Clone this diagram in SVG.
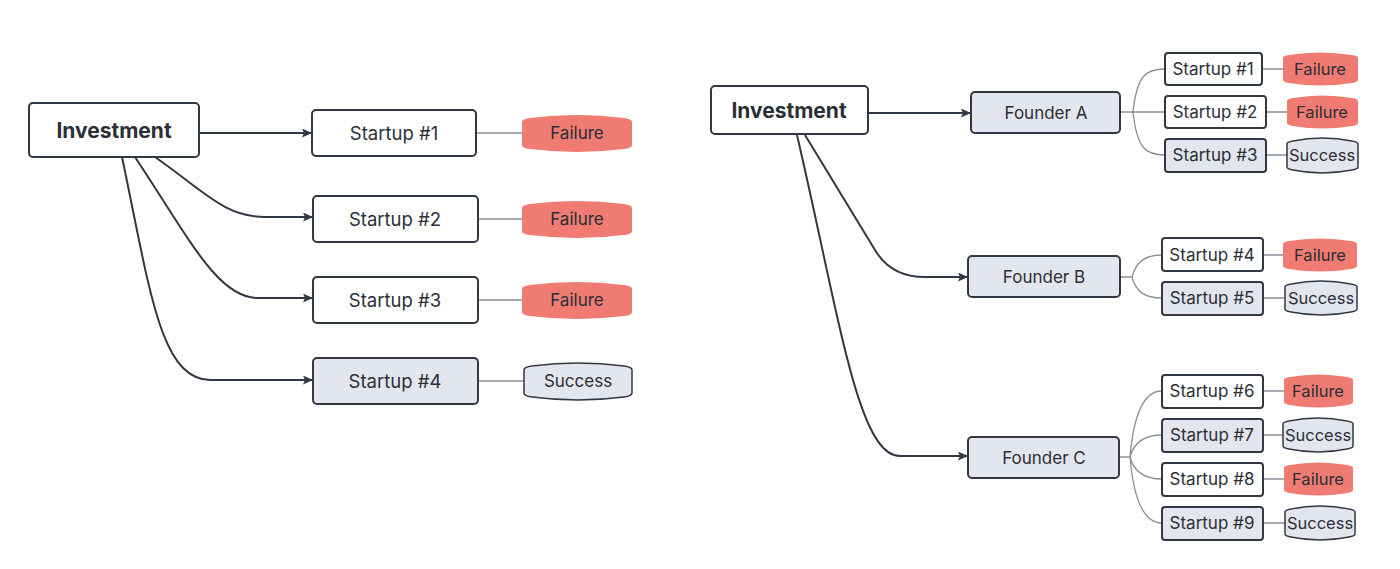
<svg xmlns="http://www.w3.org/2000/svg" width="1400" height="569" viewBox="0 0 1400 569">
<style>
.box{fill:#fff;stroke:#323843;stroke-width:2}
.gbox{fill:#e3e6ee;stroke:#323843;stroke-width:2}
.t{font-family:Inter,"Noto Sans",sans-serif;fill:#2b2f36;text-anchor:middle;dominant-baseline:central}
.b{font-weight:700;font-size:21px}
.l{font-size:18.5px}
.s{font-size:17px}
.o{font-size:16.5px}
.fail{fill:#f07b73;stroke:none}
.succ{fill:#e3e6ee;stroke:#323843;stroke-width:1.5}
.arr{fill:none;stroke:#323843;stroke-width:2;marker-end:url(#ah)}
.thin{fill:none;stroke:#8a8f96;stroke-width:1.3}
</style>
<defs>
<marker id="ah" viewBox="0 0 10 10" refX="9" refY="5" markerWidth="10" markerHeight="9" orient="auto" markerUnits="userSpaceOnUse" preserveAspectRatio="none">
<path d="M0,0 L10,5 L0,10 L2,5 Z" fill="#323843"/>
</marker>
</defs>
<rect width="1400" height="569" fill="#fff"/>

<g id="connectors">
<!-- left -->
<path class="arr" d="M199,133 L311,133"/>
<path class="arr" d="M155,157 C205,192 225,217 265,217 L312,217"/>
<path class="arr" d="M135,157 C190,240 218,298 258,298 L312,298"/>
<path class="arr" d="M122,157 C150,290 160,379 210,380 L312,380"/>
<path class="thin" d="M476,133 L522,133 M478,219 L522,219 M478,300 L522,300 M478,381 L524,381"/>
<!-- right -->
<path class="arr" d="M868,113 L970,113"/>
<path class="arr" d="M805,135 L875,250 Q891,277 925,277 L967,277"/>
<path class="arr" d="M797,135 C840,320 858,456 900,456 L967,456"/>
<path class="thin" d="M1120,112 L1165,112 M1133,112 C1137,76 1145,69 1165,69 M1133,112 C1137,148 1145,155 1165,155"/>
<path class="thin" d="M1119,277 L1132,277 C1136,262 1145,255 1162,255 M1132,277 C1136,292 1145,298 1162,298"/>
<path class="thin" d="M1119,457 L1130,457 C1134,410 1145,391 1162,391 M1130,457 C1134,442 1145,435 1162,435 M1130,457 C1134,472 1145,479 1162,479 M1130,457 C1134,504 1145,523 1162,523"/>
<path class="thin" d="M1262,69 L1283,69 M1266,112 L1287,112 M1266,155 L1287,155 M1263,255 L1283,255 M1263,298 L1285,298 M1263,391 L1284,391 M1263,435 L1283,435 M1263,479 L1284,479 M1263,523 L1285,523"/>
</g>

<g id="inv-left"><rect class="box" x="29" y="103" width="170" height="54" rx="4"/><text class="t b" x="114" y="130">Investment</text></g>
<g id="ls1"><rect class="box" x="312" y="110" width="164" height="46" rx="4"/><text class="t l" x="394" y="133">Startup #1</text></g>
<g id="ls2"><rect class="box" x="313" y="196" width="165" height="46" rx="4"/><text class="t l" x="395" y="219">Startup #2</text></g>
<g id="ls3"><rect class="box" x="313" y="277" width="165" height="46" rx="4"/><text class="t l" x="395" y="300">Startup #3</text></g>
<g id="ls4"><rect class="gbox" x="313" y="358" width="165" height="46" rx="4"/><text class="t l" x="395" y="381">Startup #4</text></g>

<g id="lo1"><path class="fail" d="M522,122 Q522,119 530,118 Q577,112 624,118 Q632,119 632,122 L632,145 Q632,148 624,149 Q577,155 530,149 Q522,148 522,145 Z"/><text class="t s" x="577" y="133">Failure</text></g>
<g id="lo2"><path class="fail" d="M522,208 Q522,205 530,204 Q577,198 624,204 Q632,205 632,208 L632,231 Q632,234 624,235 Q577,241 530,235 Q522,234 522,231 Z"/><text class="t s" x="577" y="219">Failure</text></g>
<g id="lo3"><path class="fail" d="M522,289 Q522,286 530,285 Q577,279 624,285 Q632,286 632,289 L632,312 Q632,315 624,316 Q577,322 530,316 Q522,315 522,312 Z"/><text class="t s" x="577" y="300">Failure</text></g>
<g id="lo4"><path class="succ" d="M524,370 Q524,367 532,366 Q578,360 624,366 Q632,367 632,370 L632,393 Q632,396 624,397 Q578,403 532,397 Q524,396 524,393 Z"/><text class="t s" x="578" y="381">Success</text></g>

<g id="inv-right"><rect class="box" x="711" y="86" width="157" height="48" rx="4"/><text class="t b" x="789" y="110">Investment</text></g>
<g id="fa"><rect class="gbox" x="971" y="92" width="149" height="41" rx="4"/><text class="t s" x="1046" y="113">Founder A</text></g>
<g id="fb"><rect class="gbox" x="968" y="256" width="152" height="41" rx="4"/><text class="t s" x="1044" y="277">Founder B</text></g>
<g id="fc"><rect class="gbox" x="968" y="437" width="151" height="41" rx="4"/><text class="t s" x="1044" y="458">Founder C</text></g>

<g id="rs1"><rect class="box" x="1165" y="53" width="97" height="32" rx="3"/><text class="t s" x="1213" y="69">Startup #1</text></g>
<g id="rs2"><rect class="box" x="1165" y="96" width="101" height="32" rx="3"/><text class="t s" x="1215" y="112">Startup #2</text></g>
<g id="rs3"><rect class="gbox" x="1165" y="139" width="101" height="33" rx="3"/><text class="t s" x="1215" y="155">Startup #3</text></g>
<g id="rs4"><rect class="box" x="1162" y="238" width="101" height="33" rx="3"/><text class="t s" x="1212" y="255">Startup #4</text></g>
<g id="rs5"><rect class="gbox" x="1162" y="282" width="101" height="33" rx="3"/><text class="t s" x="1212" y="298">Startup #5</text></g>
<g id="rs6"><rect class="box" x="1162" y="375" width="101" height="33" rx="3"/><text class="t s" x="1212" y="391">Startup #6</text></g>
<g id="rs7"><rect class="gbox" x="1162" y="419" width="101" height="33" rx="3"/><text class="t s" x="1212" y="435">Startup #7</text></g>
<g id="rs8"><rect class="box" x="1162" y="463" width="101" height="33" rx="3"/><text class="t s" x="1212" y="479">Startup #8</text></g>
<g id="rs9"><rect class="gbox" x="1162" y="507" width="101" height="33" rx="3"/><text class="t s" x="1212" y="523">Startup #9</text></g>

<g id="ro1"><path class="fail" d="M1283,58 Q1283,56 1289,55 Q1320,50 1352,55 Q1358,56 1358,58 L1358,80 Q1358,82 1352,83 Q1320,88 1289,83 Q1283,82 1283,80 Z"/><text class="t o" x="1320" y="69">Failure</text></g>
<g id="ro2"><path class="fail" d="M1287,101 Q1287,99 1293,98 Q1322,93 1352,98 Q1358,99 1358,101 L1358,123 Q1358,125 1352,126 Q1322,131 1293,126 Q1287,125 1287,123 Z"/><text class="t o" x="1322" y="112">Failure</text></g>
<g id="ro3"><path class="succ" d="M1287,144 Q1287,142 1293,141 Q1322,135 1352,141 Q1358,142 1358,144 L1358,167 Q1358,169 1352,170 Q1322,176 1293,170 Q1287,169 1287,167 Z"/><text class="t o" x="1322" y="155">Success</text></g>
<g id="ro4"><path class="fail" d="M1283,244 Q1283,242 1289,241 Q1320,236 1351,241 Q1357,242 1357,244 L1357,266 Q1357,268 1351,269 Q1320,274 1289,269 Q1283,268 1283,266 Z"/><text class="t o" x="1320" y="255">Failure</text></g>
<g id="ro5"><path class="succ" d="M1285,287 Q1285,285 1291,284 Q1321,278 1351,284 Q1357,285 1357,287 L1357,309 Q1357,311 1351,312 Q1321,318 1291,312 Q1285,311 1285,309 Z"/><text class="t o" x="1321" y="298">Success</text></g>
<g id="ro6"><path class="fail" d="M1284,380 Q1284,378 1290,377 Q1318,372 1347,377 Q1353,378 1353,380 L1353,402 Q1353,404 1347,405 Q1318,410 1290,405 Q1284,404 1284,402 Z"/><text class="t o" x="1318" y="391">Failure</text></g>
<g id="ro7"><path class="succ" d="M1283,424 Q1283,422 1289,421 Q1318,415 1347,421 Q1353,422 1353,424 L1353,446 Q1353,448 1347,449 Q1318,455 1289,449 Q1283,448 1283,446 Z"/><text class="t o" x="1318" y="435">Success</text></g>
<g id="ro8"><path class="fail" d="M1284,468 Q1284,466 1290,465 Q1318,460 1347,465 Q1353,466 1353,468 L1353,490 Q1353,492 1347,493 Q1318,498 1290,493 Q1284,492 1284,490 Z"/><text class="t o" x="1318" y="479">Failure</text></g>
<g id="ro9"><path class="succ" d="M1285,512 Q1285,510 1291,509 Q1320,503 1349,509 Q1355,510 1355,512 L1355,534 Q1355,536 1349,537 Q1320,543 1291,537 Q1285,536 1285,534 Z"/><text class="t o" x="1320" y="523">Success</text></g>
</svg>
